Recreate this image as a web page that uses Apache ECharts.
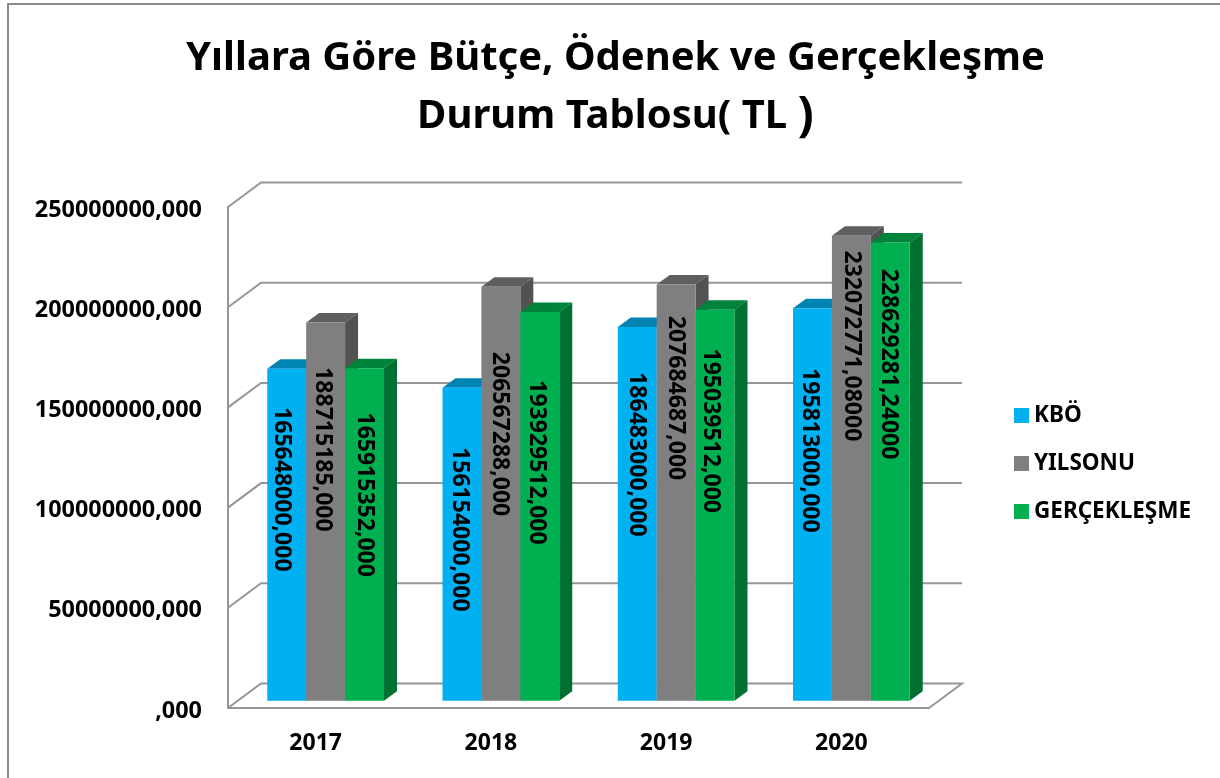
<!DOCTYPE html>
<html>
<head>
<meta charset="utf-8">
<style>html,body{margin:0;padding:0;background:#fff}#c{width:1220px;height:778px}</style>
<script src="https://cdn.jsdelivr.net/npm/echarts@6/dist/echarts.min.js"></script>
</head>
<body>
<div id="c"></div>
<script>
const categories = ['2017', '2018', '2019', '2020'];
const seriesNames = ['KBÖ', 'YILSONU', 'GERÇEKLEŞME'];
const kbo = [165648000, 156154000, 186483000, 195813000];
const yilsonu = [188715185, 206567288, 207684687, 232072771.08];
const gerceklesme = [165915352, 193929512, 195039512, 228629281.24];
const kboLabels = ['165648000,000', '156154000,000', '186483000,000', '195813000,000'];
const yilsonuLabels = ['188715185,000', '206567288,000', '207684687,000', '232072771,08000'];
const gerceklesmeLabels = ['165915352,000', '193929512,000', '195039512,000', '228629281,24000'];
const axisTicks = [0, 50000000, 100000000, 150000000, 200000000, 250000000];

// layout and style, kept apart from the data
const values = [kbo, yilsonu, gerceklesme];
const labels = [kboLabels, yilsonuLabels, gerceklesmeLabels];
const labelShiftX = [[-5, -2, -1, -3], [-3, -1, -1, 0], [0, -3, -4, -2]];
const labelShiftY = [[120.6, 141.6, 127.4, 142.1], [126.9, 147.3, 113.5, 110.3], [126.5, 150.4, 120.9, 121.5]];
const frontColors = ['#00B0F0', '#7F7F7F', '#00B050'];
const topColors = ['#0084B4', '#5F5F5F', '#00843C'];
const sideColors = ['#00759F', '#525252', '#006F32'];
const FONT = '"Noto Sans", Lato, sans-serif';
const WALL_DX = 33, WALL_DY = -24.5;
const BAR_DX = 10, BAR_DY = -7.3;
const DEPTH_DX = 13, DEPTH_DY = -9.5;
const BAR_RATIO = 0.222;
const LINE = '#969696';

function poly(points, fill) {
  return { type: 'polygon', shape: { points }, style: { fill, stroke: null } };
}

function renderWall(params, api) {
  const cs = params.coordSys;
  const p = api.coord([0, api.value(0)]);
  const y = p[1], x0 = cs.x, x1 = cs.x + cs.width;
  const pts = [[x0, y], [x0 + WALL_DX, y + WALL_DY], [x1 + WALL_DX, y + WALL_DY]];
  if (api.value(0) === 0) pts.push([x1, y]);
  return { type: 'polyline', shape: { points: pts }, style: { stroke: LINE, lineWidth: 2, fill: null } };
}

function renderBar(s) {
  return function (params, api) {
    const c = api.value(0), v = api.value(1);
    const top = api.coord([c, v]), base = api.coord([c, 0]);
    const w = api.size([1, 0])[0] * BAR_RATIO;
    const xl = top[0] - 1.5 * w + s * w + BAR_DX, xr = xl + w;
    const yt = top[1] + BAR_DY, yb = base[1] + BAR_DY;
    return {
      type: 'group',
      children: [
        poly([[xl, yt], [xr, yt], [xr + DEPTH_DX, yt + DEPTH_DY], [xl + DEPTH_DX, yt + DEPTH_DY]], topColors[s]),
        poly([[xr, yt], [xr + DEPTH_DX, yt + DEPTH_DY], [xr + DEPTH_DX, yb + DEPTH_DY], [xr, yb]], sideColors[s]),
        poly([[xl, yt], [xr, yt], [xr, yb], [xl, yb]], frontColors[s]),
        {
          type: 'text',
          x: (xl + xr) / 2 + labelShiftX[s][c],
          y: yt + labelShiftY[s][c],
          rotation: -Math.PI / 2,
          z2: 10,
          style: {
            text: labels[s][c], fill: '#000',
            font: 'bold 23px ' + FONT, align: 'center', verticalAlign: 'middle'
          }
        }
      ]
    };
  };
}

const chart = echarts.init(document.getElementById('c'), null, { renderer: 'canvas' });
chart.setOption({
  animation: false,
  backgroundColor: '#fff',
  title: {
    text: 'Yıllara Göre Bütçe, Ödenek ve Gerçekleşme\nDurum Tablosu( TL {p|)}',
    left: 610.5, top: 25, textAlign: 'center',
    textStyle: {
      fontFamily: FONT, fontWeight: 'bold', fontSize: 40, lineHeight: 58, color: '#000',
      rich: { p: { fontFamily: FONT, fontWeight: 'bold', fontSize: 48, lineHeight: 58, color: '#000' } }
    }
  },
  legend: {
    data: seriesNames, orient: 'vertical', left: 1014, top: 404, padding: 0,
    icon: 'rect', itemWidth: 15, itemHeight: 15, itemGap: 25, selectedMode: false,
    textStyle: { fontFamily: FONT, fontWeight: 'bold', fontSize: 22.5, color: '#000', padding: [0, 0, 0, 0] }
  },
  grid: { left: 228, right: 291, top: 207, bottom: 70 },
  xAxis: {
    type: 'category', data: categories,
    axisLine: { lineStyle: { color: LINE, width: 2 } },
    axisTick: { show: false }, splitLine: { show: false },
    axisLabel: { fontFamily: FONT, fontWeight: 'bold', fontSize: 23, color: '#000', margin: 24 }
  },
  yAxis: {
    type: 'value', min: 0, max: 250000000, interval: 50000000,
    axisLine: { show: true, lineStyle: { color: LINE, width: 2 } },
    axisTick: { show: false }, splitLine: { show: false },
    axisLabel: {
      color: '#000', margin: 26,
      formatter: v => '{a|' + (v === 0 ? '' : String(v)) + ',000}',
      rich: { a: { fontFamily: FONT, fontWeight: 'bold', fontSize: 23.4, color: '#000', padding: [6, 0, 0, 0] } }
    }
  },
  graphic: [{
    type: 'polyline', silent: true,
    shape: { points: [[8, 778], [8, 4], [1220, 4]] },
    style: { stroke: '#8C8C8C', lineWidth: 2, fill: null }
  }],
  series: [
    { type: 'custom', name: 'wall', data: axisTicks.map(t => [t]), renderItem: renderWall, encode: { y: 0 }, silent: true, z: 1 },
    ...seriesNames.map((name, s) => ({
      type: 'custom', name, renderItem: renderBar(s), z: 2 + s,
      itemStyle: { color: frontColors[s] },
      encode: { x: 0, y: 1 },
      data: values[s].map((v, c) => [c, v])
    }))
  ]
});
</script>
</body>
</html>
